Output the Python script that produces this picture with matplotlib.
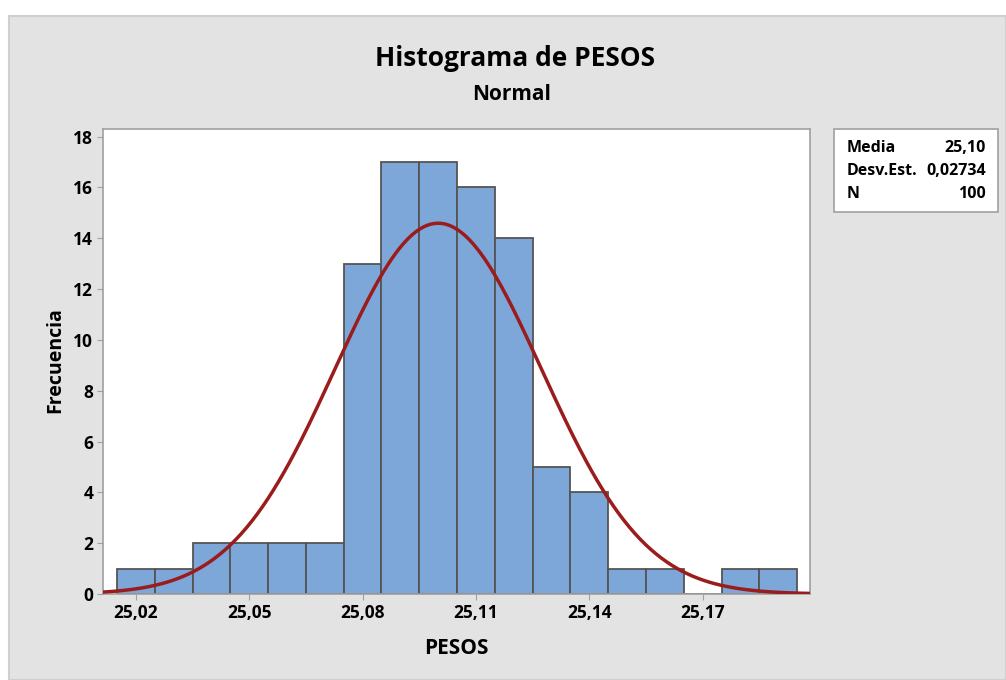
import numpy as np
import matplotlib
matplotlib.use('Agg')
import matplotlib.pyplot as plt
from matplotlib.patches import Rectangle

plt.rcParams['font.family'] = ['Open Sans', 'DejaVu Sans']

# datos del histograma (centros de clase y frecuencias)
centros = [25.02, 25.03, 25.04, 25.05, 25.06, 25.07, 25.08, 25.09, 25.10,
           25.11, 25.12, 25.13, 25.14, 25.15, 25.16, 25.17, 25.18, 25.19]
frecuencias = [1, 1, 2, 2, 2, 2, 13, 17, 17, 16, 14, 5, 4, 1, 1, 0, 1, 1]
ancho = 0.01
media = 25.10
desv = 0.02734
n = 100
xticks = [25.02, 25.05, 25.08, 25.11, 25.14, 25.17]

fig = plt.figure(figsize=(10.06, 6.8), dpi=100)
fig.patch.set_facecolor('white')
# fondo gris tipo Minitab
fondo = Rectangle((9/1006, 0), 1 - 9/1006, 1 - 16/680, transform=fig.transFigure,
                  facecolor='#e3e3e3', edgecolor='#cfcfcf', linewidth=1.5, zorder=-1)
fig.patches.append(fondo)

ax = fig.add_axes([103/1006, 1 - 594/680, (810-103)/1006, (594-129)/680])
ax.set_facecolor('white')
ax.bar(centros, frecuencias, width=ancho, color='#7da7d9', edgecolor='#555555',
       linewidth=1.3, zorder=2)

xlim = (25.0113, 25.1984)
x = np.linspace(xlim[0], xlim[1], 400)
y = n*ancho/(desv*np.sqrt(2*np.pi))*np.exp(-0.5*((x - media)/desv)**2)
ax.plot(x, y, color='#9b1c1c', linewidth=2.5, zorder=3)

ax.set_xlim(xlim)
ax.set_ylim(0, 18.3)
ax.set_xticks(xticks)
ax.set_xticklabels([('%.2f' % t).replace('.', ',') for t in xticks])
ax.set_yticks(range(0, 19, 2))
for s in ax.spines.values():
    s.set_color('#a0a0a0')
    s.set_linewidth(1.2)
ax.tick_params(length=4, color='#a0a0a0', labelsize=12.5, pad=3)
for lab in ax.get_xticklabels() + ax.get_yticklabels():
    lab.set_fontweight('bold')

fig.text(55/1006, 1 - 360/680, 'Frecuencia', rotation=90, ha='center', va='center',
         fontsize=14, fontweight='bold')
fig.text(456/1006, 1 - 648/680, 'PESOS', ha='center', va='center',
         fontsize=15, fontweight='bold')
fig.text(515/1006, 1 - 59/680, 'Histograma de PESOS', ha='center', va='center',
         fontsize=19, fontweight='bold')
fig.text(512/1006, 1 - 95/680, 'Normal', ha='center', va='center',
         fontsize=15, fontweight='bold')

# caja de estadisticos
caja = Rectangle((834/1006, 1 - 212/680), 164/1006, 83/680, transform=fig.transFigure,
                 facecolor='white', edgecolor='#a0a0a0', linewidth=1.2)
fig.patches.append(caja)
filas = [('Media', '25,10'), ('Desv.Est.', ('%.5f' % desv).replace('.', ',')), ('N', str(n))]
for i, (k, v) in enumerate(filas):
    yy = 1 - (148 + i*23)/680
    fig.text(847/1006, yy, k, ha='left', va='center', fontsize=11.5, fontweight='bold')
    fig.text(986/1006, yy, v, ha='right', va='center', fontsize=11.5, fontweight='bold')

fig.savefig('out.png', dpi=100)
